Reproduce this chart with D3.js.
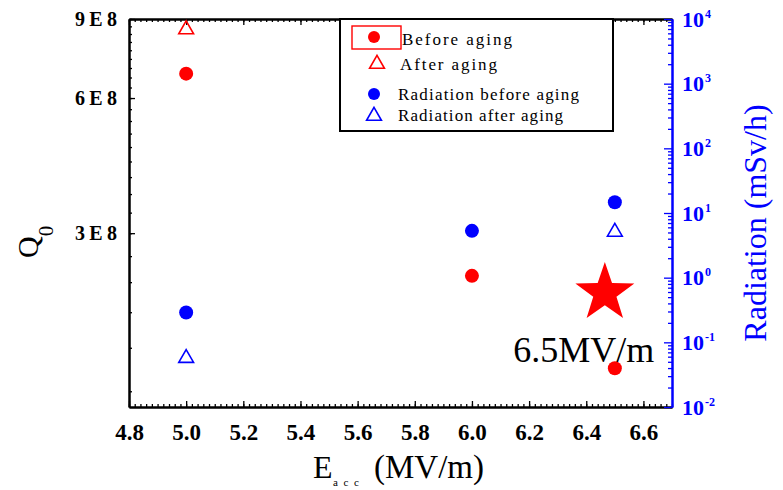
<!DOCTYPE html>
<html><head><meta charset="utf-8">
<script src="https://cdn.jsdelivr.net/npm/d3@7"></script>
<style>
html,body{margin:0;padding:0;background:#fff;}
svg{display:block;}
</style></head>
<body>
<script>
// ---- data ----
const xTicks = [4.8, 5.0, 5.2, 5.4, 5.6, 5.8, 6.0, 6.2, 6.4, 6.6];
const qTicks = [3e8, 6e8, 9e8];
const qTickLabels = ["3E8", "6E8", "9E8"];
const radTicks = [1e-2, 1e-1, 1e0, 1e1, 1e2, 1e3, 1e4];
const radExponents = ["-2", "-1", "0", "1", "2", "3", "4"];

const beforeE = [5.0, 6.0, 6.5];
const beforeQ = [6.8e8, 2.41e8, 1.5e8];
const afterE = [5.0];
const afterQ = [8.53e8];
const radBeforeE = [5.0, 6.0, 6.5];
const radBefore = [0.29, 5.3, 14.7];
const radAfterE = [5.0, 6.5];
const radAfter = [0.057, 5.1];

const legendLabels = ["Before aging", "After aging", "Radiation before aging", "Radiation after aging"];
const starE = 6.465, starRad = 0.58, starLabel = "6.5MV/m";

// ---- layout ----
const W = 783, H = 490;
const L = 129, R = 672, T = 19, B = 407;
const red = "#ff0000", blue = "#0000ff";
const serif = "'Liberation Serif','Times New Roman',serif";

const svg = d3.select("body").append("svg").attr("width", W).attr("height", H)
  .style("font-family", serif);

const x = d3.scaleLinear().domain([4.8, 6.7]).range([L, R]);
const yQ = d3.scaleLog().domain([1.23e8, 9e8]).range([B, T]);
const yR = d3.scaleLog().domain([1e-2, 1e4]).range([B, T]);

// minor tick values
const xMinor = d3.range(0, 96).map(i => 4.8 + i * 0.02).filter(v => v <= 6.7001);
const qMinor = d3.range(4, 28).map(k => k * 1e8 / 3).filter(v => v >= 1.23e8 && v <= 9.0001e8);
const rMinor = [];
radTicks.forEach(d => { for (let m = 2; m <= 9; m++) if (d * m < 1e4) rMinor.push(d * m); });

function styleAxis(g, color) {
  g.select(".domain").attr("stroke", color).attr("stroke-width", 2);
  g.selectAll(".tick line").attr("stroke", color).attr("stroke-width", 1.3);
}

// bottom minor + major
svg.append("g").attr("transform", `translate(0,${B})`)
  .call(d3.axisBottom(x).tickValues(xMinor).tickSizeInner(-3).tickSizeOuter(0).tickFormat(""))
  .call(g => styleAxis(g, "#000"));
const bx = svg.append("g").attr("transform", `translate(0,${B})`)
  .call(d3.axisBottom(x).tickValues(xTicks).tickSizeInner(-6).tickSizeOuter(0).tickPadding(17).tickFormat(d3.format(".1f")))
  .call(g => styleAxis(g, "#000"));
bx.selectAll("text").attr("font-size", 23).attr("font-weight", "bold").attr("fill", "#000")
  .attr("font-family", serif);

// top
svg.append("g").attr("transform", `translate(0,${T})`)
  .call(d3.axisTop(x).tickValues(xMinor).tickSizeInner(-3).tickSizeOuter(0).tickFormat(""))
  .call(g => styleAxis(g, "#000"));
svg.append("g").attr("transform", `translate(0,${T})`)
  .call(d3.axisTop(x).tickValues(xTicks).tickSizeInner(-6).tickSizeOuter(0).tickFormat(""))
  .call(g => styleAxis(g, "#000"));

// left
svg.append("g").attr("transform", `translate(${L},0)`)
  .call(d3.axisLeft(yQ).tickValues(qMinor).tickSizeInner(-3).tickSizeOuter(0).tickFormat(""))
  .call(g => styleAxis(g, "#000"));
const ly = svg.append("g").attr("transform", `translate(${L},0)`)
  .call(d3.axisLeft(yQ).tickValues(qTicks).tickSizeInner(-6).tickSizeOuter(0).tickPadding(12)
    .tickFormat((d, i) => qTickLabels[i]))
  .call(g => styleAxis(g, "#000"));
ly.selectAll("text").attr("font-size", 20).attr("font-weight", "bold").attr("fill", "#000")
  .attr("font-family", serif).attr("textLength", 42).attr("lengthAdjust", "spacing");

// right
svg.append("g").attr("transform", `translate(${R},0)`)
  .call(d3.axisRight(yR).tickValues(rMinor).tickSizeInner(-4).tickSizeOuter(0).tickFormat(""))
  .call(g => styleAxis(g, blue));
const ry = svg.append("g").attr("transform", `translate(${R},0)`)
  .call(d3.axisRight(yR).tickValues(radTicks).tickSizeInner(-8).tickSizeOuter(0).tickPadding(10).tickFormat(""))
  .call(g => styleAxis(g, blue));
ry.selectAll(".tick").each(function(d, i) {
  const t = d3.select(this).select("text")
    .attr("fill", blue).attr("font-weight", "bold").attr("font-size", 22).attr("font-family", serif);
  t.append("tspan").text("10");
  t.append("tspan").attr("font-size", 12).attr("dy", -9).attr("dx", 1).text(radExponents[i]);
});

// ---- marks ----
const triangle = d3.symbol().type(d3.symbolTriangle).size(95);

svg.append("g").selectAll("circle").data(beforeE).join("circle")
  .attr("cx", d => x(d)).attr("cy", (d, i) => yQ(beforeQ[i])).attr("r", 7).attr("fill", red);
svg.append("g").selectAll("path").data(afterE).join("path")
  .attr("transform", (d, i) => `translate(${x(d)},${yQ(afterQ[i])})`).attr("d", triangle)
  .attr("fill", "none").attr("stroke", red).attr("stroke-width", 1.6);
svg.append("g").selectAll("circle").data(radBeforeE).join("circle")
  .attr("cx", d => x(d)).attr("cy", (d, i) => yR(radBefore[i])).attr("r", 7).attr("fill", blue);
svg.append("g").selectAll("path").data(radAfterE).join("path")
  .attr("transform", (d, i) => `translate(${x(d)},${yR(radAfter[i])})`).attr("d", triangle)
  .attr("fill", "none").attr("stroke", blue).attr("stroke-width", 1.6);

// star annotation
const sx = x(starE), sy = yR(starRad), Ro = 31, Ri = 12.2;
const starPts = d3.range(10).map(k => {
  const a = -Math.PI / 2 + k * Math.PI / 5, r = k % 2 ? Ri : Ro;
  return [sx + r * Math.cos(a), sy + r * Math.sin(a)];
});
svg.append("path").attr("d", "M" + starPts.join("L") + "Z").attr("fill", red);
svg.append("text").attr("x", sx - 21).attr("y", sy + 69).attr("text-anchor", "middle")
  .attr("font-size", 36).attr("fill", "#000").text(starLabel);

// ---- legend ----
const lg = svg.append("g");
lg.append("rect").attr("x", 340).attr("y", T).attr("width", 273).attr("height", 112)
  .attr("fill", "#fff").attr("stroke", "#000").attr("stroke-width", 2);
lg.append("rect").attr("x", 352).attr("y", 26).attr("width", 49).attr("height", 23)
  .attr("fill", "none").attr("stroke", red).attr("stroke-width", 1.4);
lg.append("circle").attr("cx", 374).attr("cy", 37).attr("r", 6).attr("fill", red);
lg.append("path").attr("transform", "translate(377,64)").attr("d", triangle).attr("fill", "none")
  .attr("stroke", red).attr("stroke-width", 1.6);
lg.append("circle").attr("cx", 374).attr("cy", 94).attr("r", 6).attr("fill", blue);
lg.append("path").attr("transform", "translate(374,116)").attr("d", triangle).attr("fill", "none")
  .attr("stroke", blue).attr("stroke-width", 1.6);
const legPos = [[402, 45, 110], [400, 70, 97], [398, 100, 181], [398, 121, 165]];
lg.selectAll("text.leg").data(legendLabels).join("text").attr("class", "leg")
  .attr("x", (d, i) => legPos[i][0]).attr("y", (d, i) => legPos[i][1])
  .attr("textLength", (d, i) => legPos[i][2]).attr("lengthAdjust", "spacing")
  .attr("font-size", 17).attr("fill", "#000").text(d => d);

// ---- axis titles ----
svg.append("text").attr("x", 313).attr("y", 478).attr("font-size", 32).attr("fill", "#000").text("E");
svg.append("text").attr("x", 333).attr("y", 486).attr("font-size", 11).attr("fill", "#000")
  .attr("textLength", 26).attr("lengthAdjust", "spacing").text("acc");
svg.append("text").attr("x", 374).attr("y", 478).attr("font-size", 33).attr("fill", "#000").text("(MV/m)");

const yt = svg.append("text").attr("transform", "translate(38,258) rotate(-90)").attr("font-size", 30).attr("fill", "#000");
yt.append("tspan").text("Q");
yt.append("tspan").attr("font-size", 21).attr("dy", 15).text("0");

svg.append("text").attr("transform", "translate(766,223) rotate(-90)").attr("text-anchor", "middle")
  .attr("font-size", 32).attr("fill", blue).text("Radiation (mSv/h)");
</script>
</body></html>
